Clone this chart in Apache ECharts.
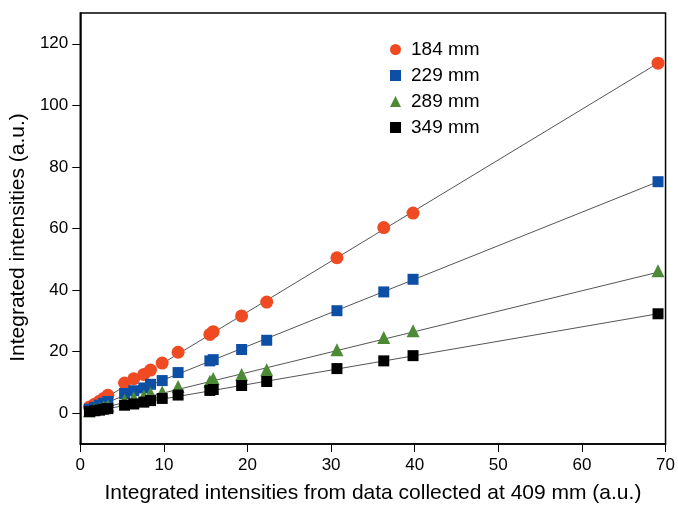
<!DOCTYPE html>
<html>
<head>
<meta charset="utf-8">
<script src="https://cdn.jsdelivr.net/npm/echarts@6/dist/echarts.min.js"></script>
<style>html,body{margin:0;padding:0;background:#fff}#c{width:678px;height:509px}</style>
</head>
<body>
<div id="c"></div>
<script>
var xValues = [1.1, 1.7, 2.3, 2.8, 3.3, 5.3, 6.4, 7.6, 8.4, 9.8, 11.7, 15.5, 15.9, 19.3, 22.3, 30.7, 36.3, 39.8, 69.1];
var s184 = [2.0, 2.9, 3.9, 4.8, 5.8, 9.8, 11.2, 12.6, 14.0, 16.3, 19.8, 25.6, 26.5, 31.6, 36.1, 50.5, 60.3, 65.0, 113.7];
var s229 = [1.3, 1.9, 2.6, 3.2, 3.8, 6.4, 7.3, 8.2, 9.4, 10.6, 13.2, 17.0, 17.4, 20.7, 23.7, 33.3, 39.4, 43.5, 75.2];
var s289 = [0.8, 1.2, 1.6, 2.0, 2.4, 4.2, 5.0, 5.6, 6.5, 6.9, 8.7, 10.4, 11.3, 12.6, 14.1, 20.6, 24.6, 26.8, 46.3];
var s349 = [0.5, 0.8, 1.0, 1.3, 1.5, 2.6, 3.0, 3.6, 4.1, 4.8, 5.9, 7.4, 7.7, 9.0, 10.3, 14.5, 17.0, 18.7, 32.3];
var fitX = [1.1, 69.1];
var fit184 = [1.8, 113.7];
var fit229 = [1.2, 75.2];
var fit289 = [0.7, 45.8];
var fit349 = [0.5, 32.3];
var yTicks = [0, 20, 40, 60, 80, 100, 120];
var seriesNames = ['184 mm', '229 mm', '289 mm', '349 mm'];

function pts(xs, ys) { return xs.map(function (x, i) { return [x, ys[i]]; }); }
var font = 'Liberation Sans, Arial, sans-serif';
var colors = ['#F04A22', '#0E4FA6', '#4C8A36', '#000000'];
var symbols = ['circle', 'rect', 'triangle', 'rect'];
var sizes = [13, 11, 13, 11];
var data = [s184, s229, s289, s349];
var fits = [fit184, fit229, fit289, fit349];

var series = [];
fits.forEach(function (f) {
  series.push({
    type: 'line', data: pts(fitX, f), showSymbol: false, symbol: 'none', silent: true,
    lineStyle: { color: '#555', width: 1 }, z: 1, animation: false
  });
});
data.forEach(function (d, i) {
  series.push({
    name: seriesNames[i], type: 'scatter', data: pts(xValues, d),
    symbol: symbols[i], symbolSize: sizes[i],
    itemStyle: { color: colors[i], opacity: 1 }, z: 3, animation: false
  });
});

var chart = echarts.init(document.getElementById('c'), null, { renderer: 'canvas' });
chart.setOption({
  backgroundColor: '#fff',
  animation: false,
  grid: { left: 77, right: 10, top: 13, bottom: 62, show: true, borderColor: '#000', borderWidth: 1.5, containLabel: false },
  legend: {
    data: seriesNames.map(function (n, i) { return { name: n, icon: symbols[i] }; }),
    orient: 'vertical', left: 385, top: 35, itemGap: 7, itemWidth: 11, itemHeight: 11,
    textStyle: { fontFamily: font, fontSize: 19, color: '#000', padding: [0, 0, 0, 5] }
  },
  xAxis: {
    type: 'value', min: 0, max: 70, interval: 10,
    name: 'Integrated intensities from data collected at 409 mm (a.u.)',
    nameLocation: 'middle', nameGap: 39,
    nameTextStyle: { fontFamily: font, fontSize: 21, color: '#000' },
    axisLine: { show: true, onZero: false, lineStyle: { color: '#000', width: 1.5 } },
    axisTick: { show: true, inside: false, length: 8, lineStyle: { color: '#000', width: 1 } },
    axisLabel: { fontFamily: font, fontSize: 17, color: '#000', margin: 13 },
    splitLine: { show: false }
  },
  yAxis: {
    type: 'value', min: -10, max: 130,
    name: 'Integrated intensities (a.u.)',
    nameLocation: 'middle', nameGap: 42,
    nameTextStyle: { fontFamily: font, fontSize: 21, color: '#000', padding: [0, 18, 0, 0] },
    axisLine: { show: true, onZero: false, lineStyle: { color: '#000', width: 1.5 } },
    axisTick: { show: true, inside: false, length: 8, customValues: yTicks, lineStyle: { color: '#000', width: 1 } },
    axisLabel: { fontFamily: font, fontSize: 17, color: '#000', margin: 12, customValues: yTicks },
    splitLine: { show: false }
  },
  series: series
});
</script>
</body>
</html>
